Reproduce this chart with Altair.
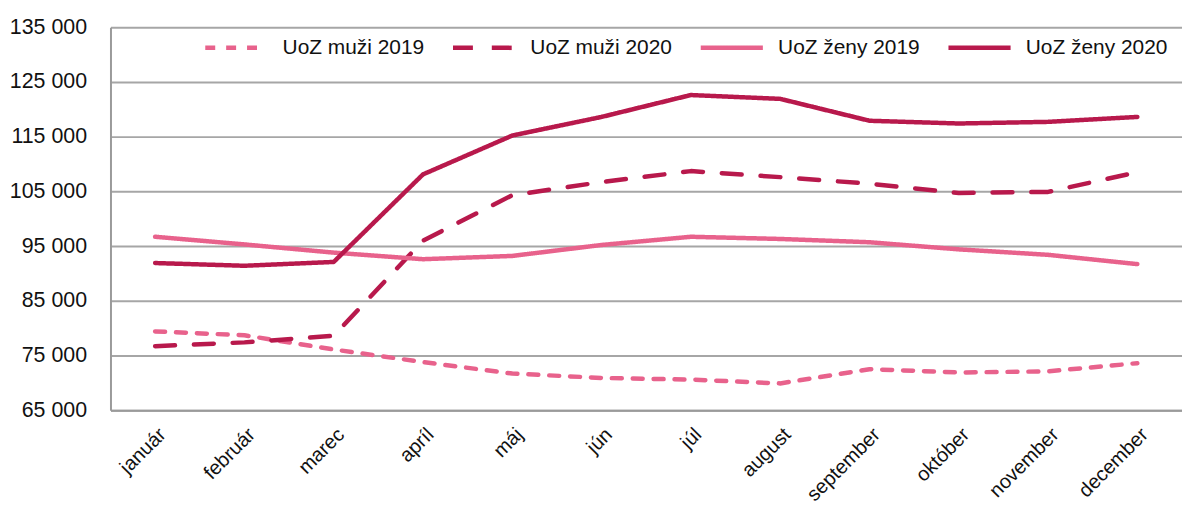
import altair as alt
import pandas as pd

months = ["január", "február", "marec", "apríl", "máj", "jún", "júl",
          "august", "september", "október", "november", "december"]

series_names = ["UoZ muži 2019", "UoZ muži 2020", "UoZ ženy 2019", "UoZ ženy 2020"]

muzi_2019 = [79400, 78700, 76100, 73800, 71700, 70900, 70600, 69900, 72500, 71900, 72100, 73600]
muzi_2020 = [76700, 77400, 78600, 96000, 104300, 106700, 108700, 107600, 106400, 104700, 104900, 108500]
zeny_2019 = [96700, 95300, 93800, 92600, 93200, 95200, 96700, 96300, 95700, 94400, 93400, 91700]
zeny_2020 = [91900, 91400, 92100, 108100, 115200, 118600, 122600, 121900, 117900, 117400, 117700, 118600]

y_ticks = [65000, 75000, 85000, 95000, 105000, 115000, 125000, 135000]

colors = ["#E8628C", "#B8194C", "#E8628C", "#B8194C"]
dashes = [[10, 11], [20, 19], [1, 0], [1, 0]]

rows = []
for name, vals in zip(series_names, [muzi_2019, muzi_2020, zeny_2019, zeny_2020]):
    for m, v in zip(months, vals):
        rows.append({"mesiac": m, "hodnota": v, "séria": name})
df = pd.DataFrame(rows)

legend = alt.Legend(
    title=None, orient="none", direction="horizontal",
    legendX=93, legendY=-13,
    symbolType="stroke", symbolSize=3900, symbolStrokeWidth=4.5,
    labelFont="Liberation Sans", labelFontSize=21, labelFontWeight="normal", labelColor="#111111",
    labelOffset=13, columnPadding=19, labelLimit=300,
)

chart = alt.Chart(df).mark_line(strokeWidth=4.5, strokeCap="round", strokeJoin="round").encode(
    x=alt.X("mesiac:N", sort=months, title=None,
            scale=alt.Scale(paddingInner=0, paddingOuter=0.5),
            axis=alt.Axis(labelAngle=-45, labelFont="Liberation Sans", labelFontSize=20,
                          labelColor="#111111", ticks=False, labelPadding=14,
                          domainColor="#9a9a9a", domainWidth=2, grid=False)),
    y=alt.Y("hodnota:Q", title=None,
            scale=alt.Scale(domain=[65000, 135000], nice=False, zero=False),
            axis=alt.Axis(values=y_ticks, labelExpr="replace(format(datum.value, ',d'), ',', ' ')",
                          labelFont="Liberation Sans", labelFontSize=21.5, labelColor="#111111",
                          ticks=False, labelPadding=24, domainColor="#9a9a9a", domainWidth=2,
                          grid=True, gridColor="#a6a6a6", gridWidth=2)),
    color=alt.Color("séria:N", sort=series_names,
                    scale=alt.Scale(domain=series_names, range=colors), legend=legend),
    strokeDash=alt.StrokeDash("séria:N", sort=series_names,
                              scale=alt.Scale(domain=series_names, range=dashes), legend=legend),
    order=alt.Order("mesiac_idx:Q"),
).transform_calculate(
    mesiac_idx="indexof(" + str(months) + ", datum.mesiac)"
).properties(
    width=1077, height=385,
    autosize=alt.AutoSizeParams(type="none"),
    padding={"left": 103, "top": 18, "right": 0, "bottom": 100},
).configure_view(stroke=None)

chart.save("out.html", embed_options={"renderer": "svg", "actions": False})
